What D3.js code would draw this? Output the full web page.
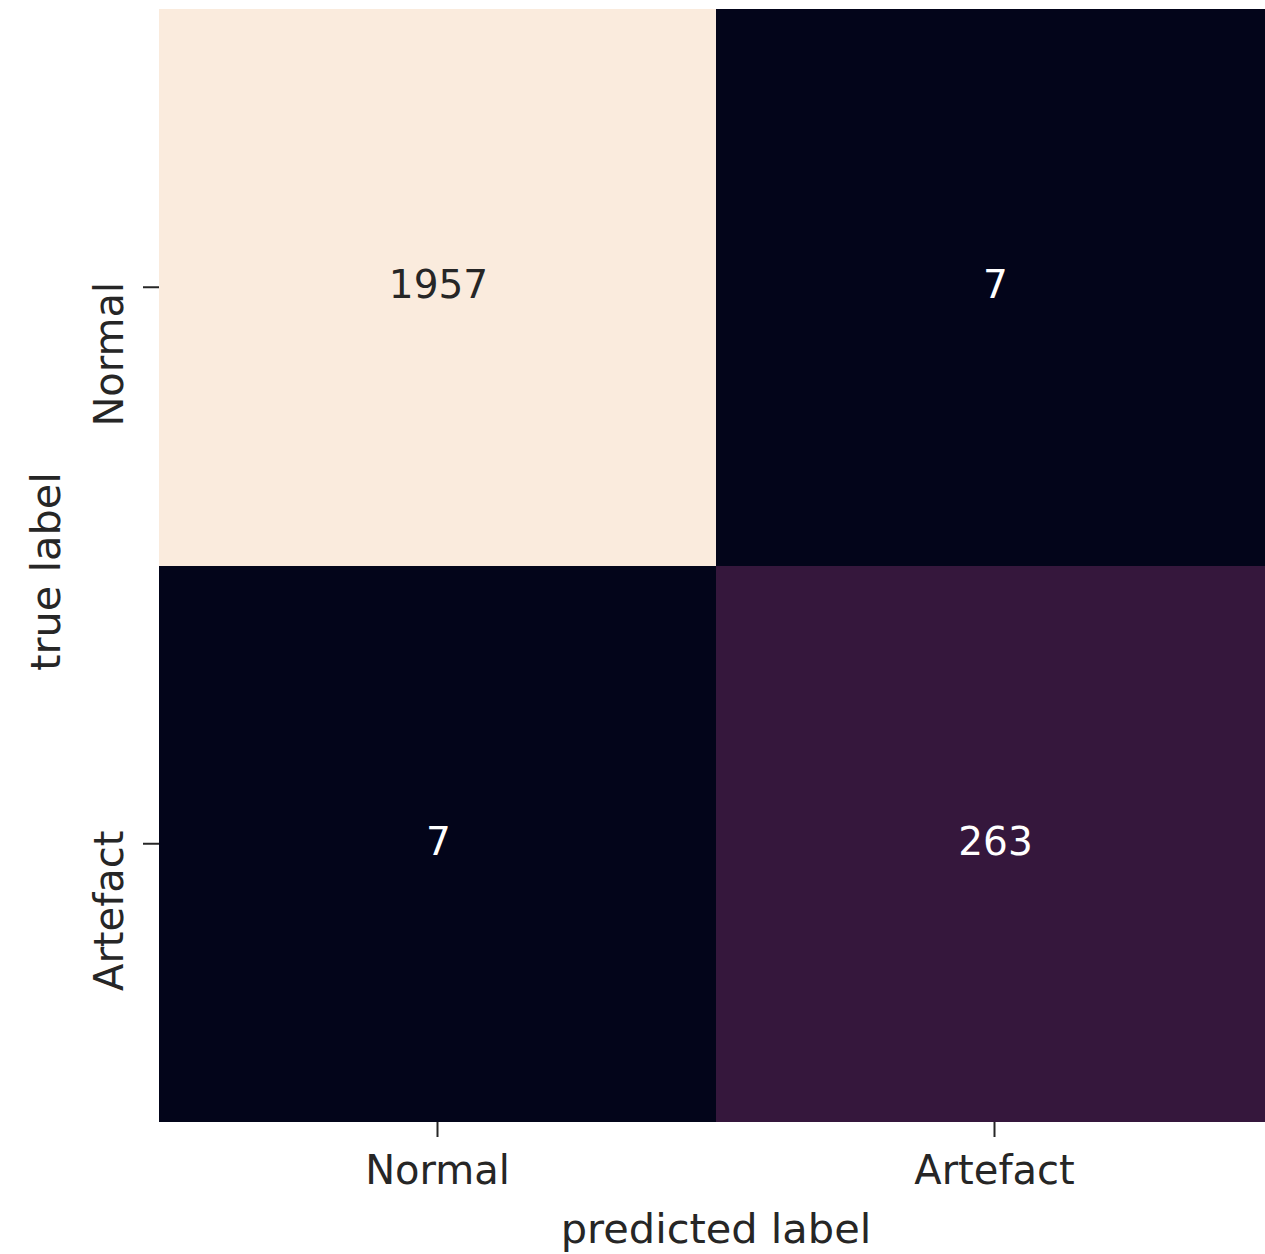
<!DOCTYPE html>
<html>
<head>
<meta charset="utf-8">
<script src="https://cdn.jsdelivr.net/npm/d3@7"></script>
<style>
  html, body { margin: 0; padding: 0; background: #ffffff; }
  svg { display: block; }
  text { font-family: "DejaVu Sans", sans-serif; }
</style>
</head>
<body>
<svg id="chart" width="1265" height="1254"></svg>
<script>
// Confusion matrix: rows = true label, columns = predicted label
const trueLabels = ["Normal", "Artefact"];
const predictedLabels = ["Normal", "Artefact"];
const counts = [
  [1957, 7],
  [7, 263]
];

// "rocket"-style sequential palette stops
const paletteStops = ["#03051a", "#2b1535", "#4c1d4b", "#6f1f57", "#a11a5b", "#cb1b4f", "#e83f3f", "#f37651", "#f6a47c", "#f8cba8", "#faebdd"];

const svg = d3.select("#chart");
const margin = { left: 159, top: 9 };
const plotW = 1114, plotH = 1113;

const x = d3.scaleBand().domain(predictedLabels).range([margin.left, margin.left + plotW]).padding(0);
const y = d3.scaleBand().domain(trueLabels).range([margin.top, margin.top + plotH]).padding(0);

const allVals = counts.flat();
const color = d3.scaleSequential(d3.interpolateRgbBasis(paletteStops))
  .domain([d3.min(allVals), d3.max(allVals)]);

const cells = [];
trueLabels.forEach((t, i) => predictedLabels.forEach((p, j) => cells.push({ t, p, v: counts[i][j] })));

// Heatmap cells
svg.append("g").selectAll("rect").data(cells).join("rect")
  .attr("x", d => x(d.p))
  .attr("y", d => y(d.t))
  .attr("width", x.bandwidth())
  .attr("height", y.bandwidth())
  .attr("fill", d => color(d.v))
  .attr("shape-rendering", "crispEdges");

// Cell annotations: dark text on light cells, white on dark
const mid = (d3.min(allVals) + d3.max(allVals)) / 2;
svg.append("g").selectAll("text").data(cells).join("text")
  .attr("x", d => x(d.p) + x.bandwidth() / 2 + 1)
  .attr("y", d => y(d.t) + y.bandwidth() / 2 + 11)
  .attr("text-anchor", "middle")
  .attr("font-size", 39)
  .attr("fill", d => d.v > mid ? "#262626" : "#ffffff")
  .text(d => d.v);

// Axes
const xAxis = d3.axisBottom(x).tickSize(15).tickPadding(19);
const yAxis = d3.axisLeft(y).tickSize(16).tickPadding(0);

const gx = svg.append("g").attr("transform", `translate(0,${margin.top + plotH})`).call(xAxis);
gx.select(".domain").remove();
gx.selectAll(".tick line").attr("stroke", "#262626").attr("stroke-width", 2);
gx.selectAll(".tick text").attr("font-size", 40).attr("fill", "#262626")
  .attr("font-family", "DejaVu Sans, sans-serif");

const gy = svg.append("g").attr("transform", `translate(${margin.left},0)`).call(yAxis);
gy.select(".domain").remove();
gy.selectAll(".tick line").attr("stroke", "#262626").attr("stroke-width", 2);
gy.selectAll(".tick text")
  .attr("font-size", 40).attr("fill", "#262626")
  .attr("font-family", "DejaVu Sans, sans-serif")
  .attr("x", null).attr("dy", null)
  .attr("text-anchor", "middle")
  .attr("transform", "translate(-36,67) rotate(-90)");

// Axis titles
svg.append("text")
  .attr("x", margin.left + plotW / 2)
  .attr("y", 1243)
  .attr("text-anchor", "middle")
  .attr("font-size", 41.5)
  .attr("fill", "#262626")
  .text("predicted label");

svg.append("text")
  .attr("transform", `translate(60,${margin.top + plotH / 2 + 6}) rotate(-90)`)
  .attr("text-anchor", "middle")
  .attr("font-size", 41.5)
  .attr("fill", "#262626")
  .text("true label");
</script>
</body>
</html>
